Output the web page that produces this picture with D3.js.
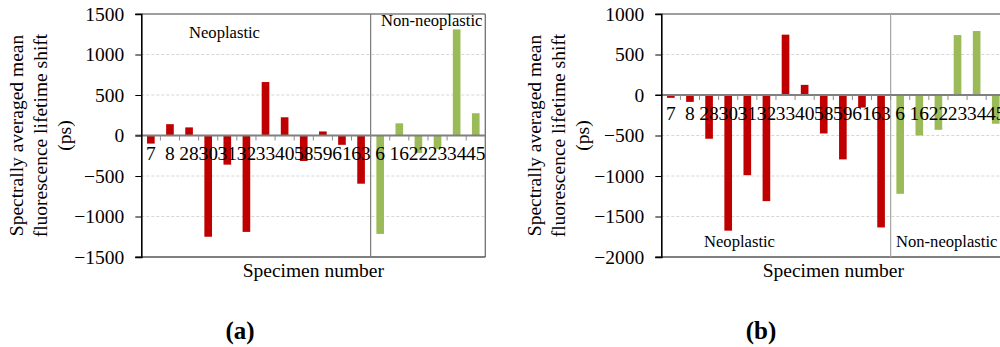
<!DOCTYPE html>
<html>
<head>
<meta charset="utf-8">
<script src="https://cdn.jsdelivr.net/npm/d3@7"></script>
<style>
  html, body { margin: 0; padding: 0; background: #fff; }
  svg { display: block; }
</style>
</head>
<body>
<svg id="chart" width="1000" height="347"></svg>
<script>
// Specimen numbers along the x axis; the first 12 are neoplastic, the rest non-neoplastic
const specimens = ["7", "8", "28", "30", "31", "32", "33", "40", "58", "59", "61", "63",
                   "6", "16", "22", "23", "34", "45"];
const neoplasticCount = 12;

// Spectrally averaged mean fluorescence lifetime shift (ps)
const shiftA = [-100, 140, 100, -1250, -360, -1190, 660, 225, -315, 50, -115, -595,
                -1215, 150, -215, -165, 1310, 275];
const shiftB = [-35, -85, -540, -1675, -990, -1310, 745, 125, -475, -795, -155, -1635,
                -1220, -500, -430, 740, 790, -355];

const ticksA = [1500, 1000, 500, 0, -500, -1000, -1500];
const ticksB = [1000, 500, 0, -500, -1000, -1500, -2000];

const groupLabels = ["Neoplastic", "Non-neoplastic"];
const yTitle = ["Spectrally averaged mean", "fluorescence lifetime shift", "(ps)"];
const xTitle = "Specimen number";
const panelTags = ["(a)", "(b)"];

const RED = "#C00000", GREEN = "#9BBB59";
const FONT = "19.5px";
const FAMILY = '"Liberation Serif"';

const svg = d3.select("#chart").style("font-family", FAMILY);

function label(sel, size = FONT) {
  return sel.style("font-family", FAMILY).style("font-size", size).style("fill", "#000");
}

function panel(opts) {
  const g = svg.append("g");
  const { left, right, top, bottom } = opts;

  const x = d3.scaleBand().domain(specimens).range([left, right]);
  const y = d3.scaleLinear().domain([d3.min(opts.ticks), d3.max(opts.ticks)]).range([bottom, top]);
  const y0 = y(0);

  // dashed gridlines
  g.append("g").selectAll("line")
    .data(opts.ticks.filter(t => t !== 0 && t !== d3.max(opts.ticks) && t !== d3.min(opts.ticks)))
    .join("line")
    .attr("x1", left).attr("x2", right)
    .attr("y1", d => y(d)).attr("y2", d => y(d))
    .attr("stroke", "#d6d6d6").attr("stroke-width", 1)
    .attr("stroke-dasharray", "3,2");

  // frame: top, right, bottom in grey
  g.append("line").attr("x1", left - 6).attr("x2", right).attr("y1", top).attr("y2", top)
    .attr("stroke", "#7f7f7f").attr("stroke-width", 1.4);
  g.append("line").attr("x1", right).attr("x2", right).attr("y1", top).attr("y2", bottom)
    .attr("stroke", "#6f6f6f").attr("stroke-width", 1.3);
  g.append("line").attr("x1", left - 6).attr("x2", right).attr("y1", bottom).attr("y2", bottom)
    .attr("stroke", "#555").attr("stroke-width", 1.4);

  // divider between the two specimen groups
  const divX = x(specimens[neoplasticCount]);
  g.append("line").attr("x1", divX).attr("x2", divX).attr("y1", top).attr("y2", bottom)
    .attr("stroke", opts.divColor).attr("stroke-width", 1.2);

  // bars
  const bw = x.bandwidth() * 0.4;
  g.append("g").selectAll("rect")
    .data(opts.values.map((v, i) => ({ s: specimens[i], v, i })))
    .join("rect")
    .attr("x", d => x(d.s) + (x.bandwidth() - bw) / 2)
    .attr("width", bw)
    .attr("y", d => Math.min(y(d.v), y0))
    .attr("height", d => Math.abs(y(d.v) - y0))
    .attr("fill", d => d.i < neoplasticCount ? RED : GREEN);

  // zero line with category tick marks
  g.append("line").attr("x1", left - 6).attr("x2", right).attr("y1", y0).attr("y2", y0)
    .attr("stroke", "#7f7f7f").attr("stroke-width", 2.2);
  g.append("g").selectAll("line")
    .data(specimens.slice(1))
    .join("line")
    .attr("x1", d => x(d)).attr("x2", d => x(d))
    .attr("y1", y0).attr("y2", y0 + 5)
    .attr("stroke", "#8c8c8c").attr("stroke-width", 1);

  // left axis
  const axis = d3.axisLeft(y).tickValues(opts.ticks).tickSize(6).tickPadding(11)
    .tickFormat(d3.format("d"));
  const ag = g.append("g").attr("transform", `translate(${left},0)`).call(axis)
    .attr("font-family", null).attr("font-size", null);
  ag.select(".domain").attr("stroke", "#000").attr("stroke-width", 1.6);
  ag.selectAll(".tick line").attr("stroke", "#000").attr("stroke-width", 1);
  label(ag.selectAll(".tick text"));

  // category labels under the zero line
  label(g.append("g").selectAll("text")
    .data(specimens)
    .join("text")
    .attr("x", d => x(d) + x.bandwidth() / 2)
    .attr("y", y0 + 24.5)
    .attr("text-anchor", "middle")
    .text(d => d));

  // group labels
  label(g.append("text").attr("x", opts.neoPos[0]).attr("y", opts.neoPos[1])
    .text(groupLabels[0]), "16.6px");
  label(g.append("text").attr("x", opts.nonPos[0]).attr("y", opts.nonPos[1])
    .text(groupLabels[1]), "16.6px");

  // y-axis title, three lines
  yTitle.forEach((line, i) => {
    label(g.append("text")
      .attr("transform", `translate(${left - opts.titleOffset + i * 24},${(top + bottom) / 2}) rotate(-90)`)
      .attr("text-anchor", "middle")
      .text(line));
  });

  // x-axis title
  label(g.append("text").attr("x", (left + right) / 2).attr("y", bottom + 19.5)
    .attr("text-anchor", "middle").text(xTitle));

  // panel tag
  label(g.append("text").attr("x", opts.tagX).attr("y", 338.5)
    .attr("text-anchor", "middle").text(opts.tag), "25px")
    .style("font-weight", "bold");
}

panel({
  left: 141.3, right: 485.3, top: 14, bottom: 257,
  ticks: ticksA, values: shiftA, divColor: "#7a7a7a",
  neoPos: [189, 37.5], nonPos: [381, 26],
  titleOffset: 118, tagX: 240, tag: panelTags[0]
});

panel({
  left: 661.3, right: 1005.3, top: 14, bottom: 257,
  ticks: ticksB, values: shiftB, divColor: "#a6a6a6",
  neoPos: [704, 246.5], nonPos: [896, 246.5],
  titleOffset: 120, tagX: 761, tag: panelTags[1]
});
</script>
</body>
</html>
